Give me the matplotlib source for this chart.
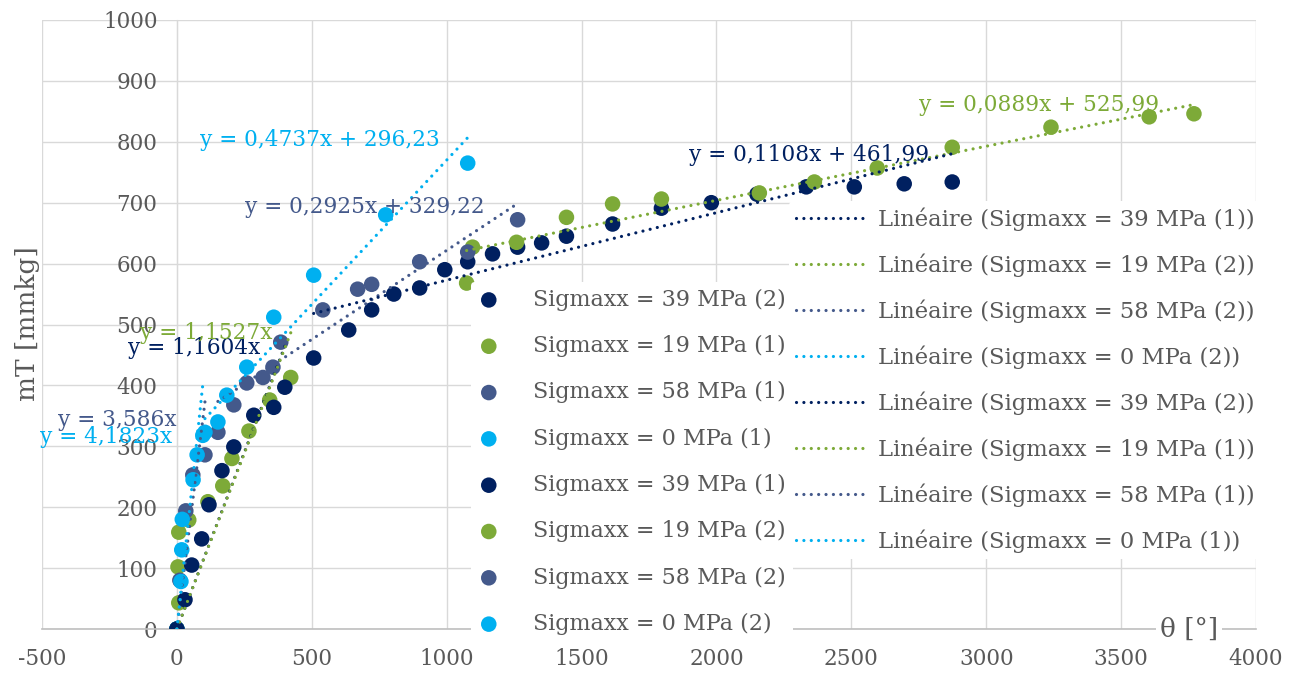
import matplotlib
matplotlib.use("Agg")
import matplotlib.pyplot as plt

# series data (theta in deg, mT in mmkg)
s39_1_x = [0, 30, 55, 92, 119, 167, 211, 285, 359, 400]
s39_1_y = [0, 48, 105, 148, 204, 260, 299, 351, 364, 397]
s39_2_x = [507, 637, 722, 804, 900, 993, 1078, 1170, 1263, 1352, 1444, 1615,
           1796, 1981, 2150, 2333, 2511, 2696, 2874]
s39_2_y = [445, 491, 524, 550, 560, 590, 603, 616, 627, 634, 645, 665,
           691, 700, 714, 726, 726, 731, 734]

s19_1_x = [0, 7, 4, 7, 44, 115, 170, 204, 267, 344, 422]
s19_1_y = [0, 43, 102, 159, 179, 209, 235, 280, 325, 376, 413]
s19_2_x = [1074, 1096, 1259, 1444, 1615, 1796, 2159, 2363, 2596, 2874, 3240, 3604, 3770]
s19_2_y = [568, 627, 635, 676, 698, 706, 716, 734, 757, 791, 824, 841, 846]

s58_1_x = [0, 11, 33, 59, 104]
s58_1_y = [0, 80, 194, 253, 286]
s58_2_x = [152, 211, 259, 319, 356, 385, 541, 670, 722, 900, 1078, 1263]
s58_2_y = [323, 368, 404, 413, 430, 471, 524, 558, 566, 603, 619, 672]

s0_1_x = [0, 15, 18, 20, 60, 75, 96]
s0_1_y = [0, 78, 130, 180, 245, 286, 318]
s0_2_x = [104, 152, 185, 259, 359, 507, 774, 1078]
s0_2_y = [323, 340, 384, 430, 512, 581, 680, 765]

# trendline equations as printed on the chart
trend_slope = {"39_1": 1.1604, "39_2": 0.1108, "19_1": 1.1527, "19_2": 0.0889,
               "58_1": 3.586, "58_2": 0.2925, "0_1": 4.1823, "0_2": 0.4737}
trend_icpt = {"39_1": 0, "39_2": 461.99, "19_1": 0, "19_2": 525.99,
              "58_1": 0, "58_2": 329.22, "0_1": 0, "0_2": 296.23}
trend_text = {"39_1": "y = 1,1604x", "39_2": "y = 0,1108x + 461,99",
              "19_1": "y = 1,1527x", "19_2": "y = 0,0889x + 525,99",
              "58_1": "y = 3,586x", "58_2": "y = 0,2925x + 329,22",
              "0_1": "y = 4,1823x", "0_2": "y = 0,4737x + 296,23"}
# where the equation labels sit (data coords, left edge / centre)
label_pos = {"39_1": (-181, 461), "39_2": (1900, 778),
             "19_1": (-137, 486), "19_2": (2752, 860),
             "58_1": (-441, 343), "58_2": (252, 693),
             "0_1": (-507, 315), "0_2": (85, 803)}

NAVY = "#002060"
GREEN = "#7DAA38"
SLATE = "#44598B"
LBLUE = "#00B0F0"
GREY = "#595959"

series = {
    "39_1": (s39_1_x, s39_1_y, NAVY, "Sigmaxx = 39 MPa (1)"),
    "39_2": (s39_2_x, s39_2_y, NAVY, "Sigmaxx = 39 MPa (2)"),
    "19_1": (s19_1_x, s19_1_y, GREEN, "Sigmaxx = 19 MPa (1)"),
    "19_2": (s19_2_x, s19_2_y, GREEN, "Sigmaxx = 19 MPa (2)"),
    "58_1": (s58_1_x, s58_1_y, SLATE, "Sigmaxx = 58 MPa (1)"),
    "58_2": (s58_2_x, s58_2_y, SLATE, "Sigmaxx = 58 MPa (2)"),
    "0_1": (s0_1_x, s0_1_y, LBLUE, "Sigmaxx = 0 MPa (1)"),
    "0_2": (s0_2_x, s0_2_y, LBLUE, "Sigmaxx = 0 MPa (2)"),
}
scatter_order = ["39_2", "19_1", "58_1", "0_1", "39_1", "19_2", "58_2", "0_2"]
trend_order = ["39_1", "19_2", "58_2", "0_2", "39_2", "19_1", "58_1", "0_1"]

plt.rcParams["font.family"] = ["DejaVu Serif"]
plt.rcParams["axes.unicode_minus"] = False

fig = plt.figure(figsize=(13, 6.77), dpi=100)
ax = fig.add_axes([42 / 1300, 1 - 629 / 677, 1214 / 1300, 609 / 677])

scat_handles = []
for k in scatter_order:
    x, y, col, lab = series[k]
    h = ax.scatter(x, y, s=125, color=col, edgecolors="none", zorder=3, label=lab)
    scat_handles.append(h)

trend_handles = []
for k in trend_order:
    x, y, col, lab = series[k]
    x0, x1 = min(x), max(x)
    m, b = trend_slope[k], trend_icpt[k]
    ln, = ax.plot([x0, x1], [m * x0 + b, m * x1 + b], color=col, lw=2.3,
                  linestyle=(0, (0.01, 2.3)), dash_capstyle="round", zorder=4,
                  label="Linéaire (" + lab + ")")
    trend_handles.append(ln)
    tx, ty = label_pos[k]
    ax.text(tx, ty, trend_text[k], color=col, fontsize=15.6, va="center",
            ha="left", zorder=5, clip_on=False)

ax.set_xlim(-500, 4000)
ax.set_ylim(0, 1000)
ax.set_xticks(range(-500, 4001, 500))
ax.set_yticks(range(0, 1001, 100))
ax.grid(True, color="#D9D9D9", lw=1)
ax.set_axisbelow(True)
for sp in ["top", "right"]:
    ax.spines[sp].set_visible(False)
ax.spines["left"].set_position(("data", 0))
ax.spines["left"].set_color("#D9D9D9")
ax.spines["bottom"].set_color("#BFBFBF")
ax.spines["bottom"].set_linewidth(1.2)
ax.tick_params(axis="both", length=0, labelsize=15.5, labelcolor=GREY)
ax.tick_params(axis="y", pad=14)
ax.tick_params(axis="x", pad=14)

fig.text(28 / 1300, 1 - 324 / 677, "mT [mmkg]", rotation=90, fontsize=19,
         color=GREY, ha="center", va="center")
ax.text(3752, 0, "θ [°]", fontsize=19, color=GREY, ha="center", va="center",
        zorder=6, bbox=dict(facecolor="white", edgecolor="none", pad=3))

leg1 = ax.legend(handles=scat_handles, loc="upper left",
                 bbox_to_anchor=(471 / 1300, 1 - 282 / 677),
                 bbox_transform=fig.transFigure, fontsize=16, frameon=True,
                 facecolor="white", edgecolor="none", framealpha=1,
                 labelcolor=GREY, handlelength=1.0, handletextpad=1.5,
                 labelspacing=1.09, borderpad=0.3, borderaxespad=0)
leg1.set_zorder(7)
ax.add_artist(leg1)
leg2 = ax.legend(handles=trend_handles, loc="upper left",
                 bbox_to_anchor=(789 / 1300, 1 - 201 / 677),
                 bbox_transform=fig.transFigure, fontsize=16.3, frameon=True,
                 facecolor="white", edgecolor="none", framealpha=1,
                 labelcolor=GREY, handlelength=3.1, handletextpad=0.52,
                 labelspacing=0.99, borderpad=0.3, borderaxespad=0)
leg2.set_zorder(7)

fig.savefig("out.png", dpi=100)
